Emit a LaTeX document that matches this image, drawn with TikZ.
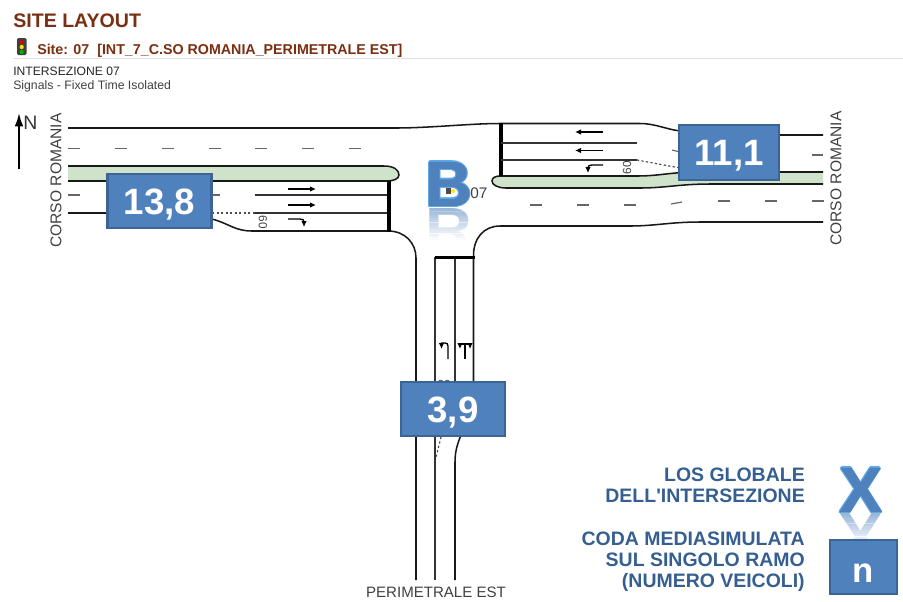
\documentclass[tikz,border=0pt]{standalone}
\usepackage{fontspec}
\setmainfont{Liberation Sans}
\newfontfamily\plainf{Liberation Sans}
\usetikzlibrary{arrows.meta}
\definecolor{brownt}{HTML}{7A2F12}
\definecolor{boxb}{HTML}{4F81BD}
\definecolor{boxe}{HTML}{3C6494}
\definecolor{legendt}{HTML}{365F91}
\definecolor{isl}{HTML}{CFE3CB}
\definecolor{lightb}{HTML}{5FA8E6}
\definecolor{gtext}{HTML}{404040}
\tikzset{
 road/.style={line width=1.15pt,black!90},
 lane/.style={line width=0.8pt,black!80},
 stopl/.style={line width=2.8pt,black},
 dsh/.style={line width=0.9pt,black!60},
 dott/.style={line width=0.9pt,black!70,dash pattern=on 1.6pt off 1.8pt},
 arr/.style={line width=1pt,black,-{Latex[length=4.5pt,width=4.2pt]}},
 qbox/.style={draw=boxe,line width=1.6pt,fill=boxb,text=white,font=\bfseries\fontsize{27.5}{27.5}\selectfont,inner sep=0pt,minimum width=78pt,minimum height=41pt,text height=20pt,text depth=0pt},
 nbox/.style={qbox,minimum width=50pt,font=\bfseries\fontsize{26}{26}\selectfont,text height=22.5pt},
 rlabel/.style={text=gtext,font=\fontsize{11.7}{11.7}\selectfont,rotate=90,inner sep=0pt},
 legend/.style={text=legendt,font=\plainf\bfseries\fontsize{14.6}{15.8}\selectfont,align=right,anchor=east,inner sep=0pt},
 lanespeed/.style={text=gtext,font=\fontsize{8.8}{8.8}\selectfont,inner sep=0pt},
 bigl/.style={inner sep=0pt,font=\bfseries\fontsize{48}{48}\selectfont},
}
\begin{document}
\begin{tikzpicture}[x=0.75pt,y=-0.75pt]
\useasboundingbox (0,0) rectangle (903,601);
% header
\node[anchor=base west,inner sep=0pt,text=brownt,font=\bfseries\fontsize{14.7}{14.7}\selectfont] (title) at (13,27) {SITE LAYOUT};
\fill[black!75,rounded corners=1pt] (17,38) rectangle (26.5,55);
\fill[red!85!black] (21.7,42) circle (2.1);
\fill[yellow!85!orange] (21.7,47) circle (2.1);
\fill[green!70!black] (21.7,52) circle (2.1);
\node[anchor=base west,inner sep=0pt,text=brownt,font=\bfseries\fontsize{10.7}{10.7}\selectfont] (site) at (37,54.5) {Site: 07\ \ [INT\_7\_C.SO ROMANIA\_PERIMETRALE EST]};
\draw[black!12,line width=0.7pt] (13,58) -- (903,58);
\node[anchor=base west,inner sep=0pt,text=black!85,font=\fontsize{9.1}{9.1}\selectfont] (int) at (13,75) {INTERSEZIONE 07};
\node[anchor=base west,inner sep=0pt,text=black!75,font=\fontsize{9.2}{9.2}\selectfont] (sig) at (13,89) {Signals - Fixed Time Isolated};
% LOS letter B with reflection
\node[bigl,text=boxb!65,yscale=-1] (losr) at (449,231) {B};
\foreach \i in {0,...,14} \fill[white,opacity=0.12+\i*0.06] (424,207+\i*2.2) rectangle (476,209.4+\i*2.2);
\fill[white] (424,240) rectangle (476,258);
\foreach \dx/\dy in {-1.4/0,1.2/0,0/-1.2,0/1.2,-1/-1,1/1,1/-1,-1/1}
  \node[bigl,text=lightb] at (449+\dx,184+\dy) {B};
\foreach \dx in {-0.4,0.4} \node[bigl,text=boxb] at (449+\dx,184) {B};
\node[bigl,text=boxb] (los) at (449,184) {B};
\fill[black!70] (446,188) rectangle (451,194);
\fill[yellow!90!orange] (453,191) circle (2);
\node[anchor=base west,inner sep=0pt,text=gtext,font=\fontsize{11.5}{11.5}\selectfont] (lb) at (470,198.5) {07};
% north
\draw[line width=1.4pt,black,-{Latex[length=10pt,width=6.5pt]}] (19,169) -- (19,113);
\node[anchor=base west,inner sep=0pt,text=black!80,font=\fontsize{14.6}{14.6}\selectfont] (north) at (23,129) {N};
\node[rlabel] (cr1) at (56,180.5) {CORSO ROMANIA};
\node[rlabel] (cr2) at (836,178.5) {CORSO ROMANIA};
\node[text=gtext,inner sep=0pt,font=\fontsize{11.3}{11.3}\selectfont] (pe) at (436,592) {PERIMETRALE EST};
% islands
\draw[road,fill=isl] (68,166) -- (384,166) .. controls (394,166) and (399,170) .. (399,175) .. controls (399,179) and (393,181) .. (387,181) -- (68,181);
\draw[road,fill=isl] (823,172) -- (700,172) .. controls (670,172) and (660,176) .. (637,176) -- (500,176) .. controls (495,176) and (492,178) .. (492,181) .. controls (492,185) and (498,188) .. (506,188) -- (640,188) .. controls (665,188) and (680,184) .. (710,184) -- (823,184);
% north road edge
\draw[road] (68,128) -- (395,128) .. controls (430,128) and (470,123.5) .. (500,123.5) -- (640,123.5) .. controls (655,123.5) and (665,129) .. (680,131) .. controls (700,135) and (720,135) .. (780,135) -- (823,135);
% dashes west
\foreach \a in {68,115,162,209,255,302,349} \draw[dsh] (\a,148.5) -- ++(11.5,0);
% west approach
\draw[dsh] (68,195) -- (80,195);
\draw[dsh] (212,195) -- (220,195);
\draw[lane] (255,195) -- (388,195);
\draw[lane] (255,213) -- (388,213);
\draw[road] (68,213) -- (110,213);
\draw[dott] (212,213) -- (255,213);
\draw[road] (212,219) .. controls (230,224) and (235,231) .. (252,231) -- (388,231) .. controls (405,231) and (416,243) .. (416,258) -- (416,580);
\draw[stopl] (389,181) -- (389,231.5);
\draw[arr] (288,189) -- (316,189);
\draw[arr] (288,205) -- (316,205);
\draw[arr] (288,219) -- (300,219) .. controls (303,219) and (304,220) .. (304,222) -- (304,227);
\node[lanespeed,rotate=-90] (s1) at (263,222) {60};
% east approach
\draw[stopl] (501,123) -- (501,176);
\draw[lane] (501,143) -- (637,143);
\draw[lane] (501,160) -- (637,160);
\draw[dott] (637,160) -- (680,168);
\draw[dsh] (672,150) -- (680,152);
\draw[dsh] (812,155) -- (823,155);
\draw[arr] (603,132) -- (575,132);
\draw[arr] (603,150.5) -- (575,150.5);
\draw[arr] (603,165) -- (592,165) .. controls (589,165) and (588,166) .. (588,168) -- (588,173);
\node[lanespeed,rotate=90] (s2) at (627,167.5) {60};
% dashes east
\foreach \a in {530,577,624} \draw[dsh] (\a,205) -- ++(11.5,0);
\draw[dsh] (671,204) -- (682,202);
\foreach \a in {718,765,812} \draw[dsh] (\a,201) -- ++(11.5,0);
% south edge of east arm
\draw[road] (823,222) -- (700,222) .. controls (670,222) and (655,226) .. (630,226) -- (500,226) .. controls (484,226) and (473,238) .. (473.5,257) -- (473.5,385);
% south approach
\draw[lane] (435,257) -- (435,580);
\draw[lane] (455,257) -- (455,385);
\draw[stopl] (435,257.5) -- (475,257.5);
\draw[road] (461,435) .. controls (457,445) and (455,452) .. (455,462) -- (455,580);
\draw[dott] (441,437) -- (436,457);
\draw[arr] (448,359) -- (448,346) .. controls (448,344) and (447,343) .. (445,343) -- (441.5,343) -- (441.5,349);
\draw[line width=1.1pt,black] (465,359) -- (465,344);
\draw[arr] (465,344) -- (470,344) -- (470,349);
\draw[arr] (465,344) -- (460,344) -- (460,349);
\node[lanespeed] (s3) at (444,384) {60};
% boxes
\node[qbox] (q1) at (159.5,201) {13,8};
\node[qbox,minimum width=75.5pt] (q2) at (729,152.5) {11,1};
\node[qbox] (q3) at (453,409) {3,9};
% legend
\node[bigl,text=boxb!65,yscale=-1] (losxr) at (861,536) {X};
\foreach \i in {0,...,10} \fill[white,opacity=0.12+\i*0.075] (830,513+\i*2.6) rectangle (897,515.8+\i*2.6);
\foreach \dx/\dy in {-1.4/0,1.2/0,0/-1.2,0/1.2,-1/-1,1/1,1/-1,-1/1}
  \node[bigl,text=lightb] at (861+\dx,490+\dy) {X};
\foreach \dx in {-0.4,0.4} \node[bigl,text=boxb] at (861+\dx,490) {X};
\node[bigl,text=boxb] (losx) at (861,490) {X};
\node[nbox] (q4) at (863.5,567) {n};
\node[legend] (l1) at (805,485) {LOS GLOBALE\\DELL'INTERSEZIONE};
\node[legend] (l2) at (805,562) {CODA MEDIASIMULATA\\SUL SINGOLO RAMO\\(NUMERO VEICOLI)};
\end{tikzpicture}
\end{document}
